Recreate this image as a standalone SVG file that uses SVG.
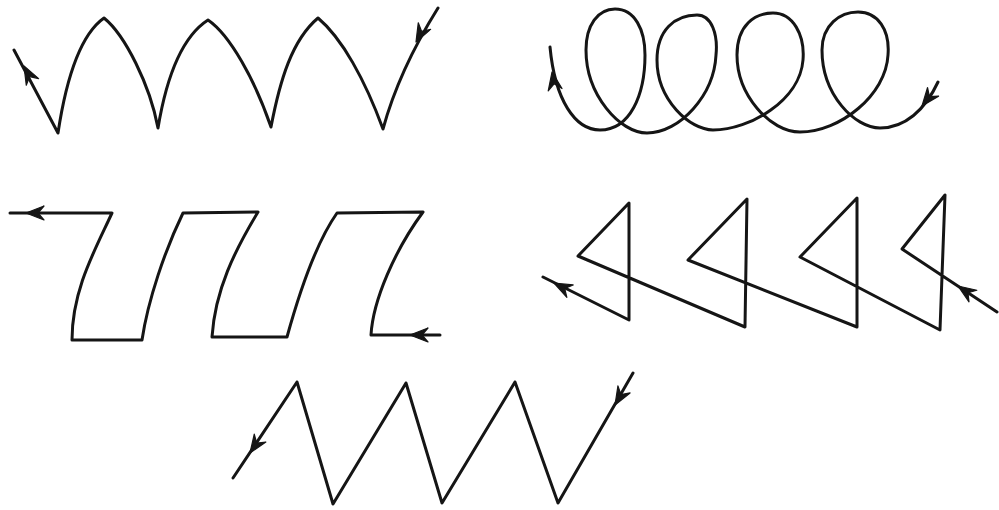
<svg xmlns="http://www.w3.org/2000/svg" width="999" height="510" viewBox="0 0 999 510">
  <style>
    .w { fill: none; stroke: #151515; stroke-width: 3; stroke-linejoin: round; stroke-linecap: round; }
  </style>
  <defs>
    <path id="ah" d="M0,0 L-18,-7 L-12,0 L-18,7 Z" fill="#151515" stroke="#151515" stroke-width="1.2" stroke-linejoin="round"/>
  </defs>
  <rect width="999" height="510" fill="#ffffff"/>

  <g id="crescent">
    <path class="w" d="M438,8 C418,40 395,85 383,129 C365,80 342,38 318,18 C292,40 280,80 271,127 C255,80 230,35 208,20 C180,38 166,80 158,128 C150,85 125,35 104,18 C80,35 66,80 58,133 L14,50"/>
    <use href="#ah" transform="translate(416,42) rotate(118)"/>
    <use href="#ah" transform="translate(24,66) rotate(-118)"/>
  </g>

  <g id="loops">
    <path class="w" d="M938,82 C925,110 905,128 880,128 C855,128 822,95 822,50 C822,25 840,12 858,12 C878,12 890,30 888,55 C886,95 840,132 800,132 C770,132 737,95 737,55 C737,25 755,13 773,13 C793,13 805,35 803,60 C800,100 750,130 713,130 C690,130 657,100 657,60 C657,30 675,15 697,15 C712,15 718,35 716,55 C714,95 680,133 647,133 C620,133 586,95 586,50 C586,25 598,9 615,9 C635,9 645,30 645,55 C645,95 630,130 600,130 C575,130 555,100 550,47"/>
    <use href="#ah" transform="translate(922,106) rotate(128)"/>
    <use href="#ah" transform="translate(552,72) rotate(-100)"/>
  </g>

  <g id="square">
    <path class="w" d="M440,335 L371,335 C373,300 395,250 423,212 L337,213 C318,240 300,290 287,337 L212,337 C215,290 235,250 258,212 L183,213 C165,250 148,300 142,340 L72,340 C72,290 95,250 112,213 L10,213"/>
    <use href="#ah" transform="translate(410,335) rotate(180)"/>
    <use href="#ah" transform="translate(26,213) rotate(180)"/>
  </g>

  <g id="triangles">
    <path class="w" d="M997,312 L902,249 L945,195 L940,330 L800,257 L857,198 L857,327 L688,260 L747,199 L745,327 L578,256 L629,203 L629,320 L543,277"/>
    <use href="#ah" transform="translate(958,286) rotate(-146)"/>
    <use href="#ah" transform="translate(554,283) rotate(-153)"/>
  </g>

  <g id="zigzag">
    <path class="w" d="M633,373 L558,503 L515,382 L442,503 L406,383 L333,504 L297,382 L233,478"/>
    <use href="#ah" transform="translate(615,405) rotate(120)"/>
    <use href="#ah" transform="translate(250,453) rotate(124)"/>
  </g>
</svg>
